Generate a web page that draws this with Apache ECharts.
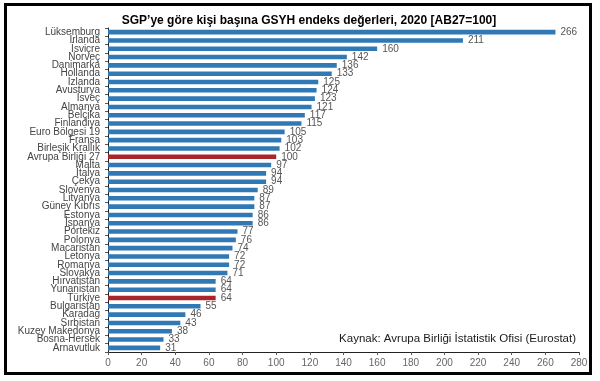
<!DOCTYPE html>
<html>
<head>
<meta charset="utf-8">
<script src="https://cdn.jsdelivr.net/npm/echarts@6/dist/echarts.min.js"></script>
<style>
html,body{margin:0;padding:0;background:#fff;}
#c{width:600px;height:381px;}
</style>
</head>
<body>
<div id="c"></div>
<script>
const categories = ["Lüksemburg","İrlanda","İsviçre","Norveç","Danimarka","Hollanda","İzlanda","Avusturya","İsveç","Almanya","Belçika","Finlandiya","Euro Bölgesi 19","Fransa","Birleşik Krallık","Avrupa Birliği 27","Malta","İtalya","Çekya","Slovenya","Litvanya","Güney Kıbrıs","Estonya","İspanya","Portekiz","Polonya","Macaristan","Letonya","Romanya","Slovakya","Hırvatistan","Yunanistan","Türkiye","Bulgaristan","Karadağ","Sırbistan","Kuzey Makedonya","Bosna-Hersek","Arnavutluk"];
const values = [266,211,160,142,136,133,125,124,123,121,117,115,105,103,102,100,97,94,94,89,87,87,86,86,77,76,74,72,72,71,64,64,64,55,46,43,38,33,31];
const highlighted = ["Avrupa Birliği 27","Türkiye"];
const xTicks = [0,20,40,60,80,100,120,140,160,180,200,220,240,260,280];
const titleText = "SGP’ye göre kişi başına GSYH endeks değerleri, 2020 [AB27=100]";
const sourceText = "Kaynak: Avrupa Birliği İstatistik Ofisi (Eurostat)";

const BLUE = "#3079b5";
const RED = "#a8262a";

const chart = echarts.init(document.getElementById('c'), null, {renderer:'canvas'});
chart.setOption({
  animation: false,
  backgroundColor: '#fff',
  title: {
    text: titleText,
    left: 304, top: 10, textAlign: 'center',
    textStyle: {fontFamily: 'Liberation Sans, Arial, sans-serif', fontSize: 12, fontWeight: 'bold', color: '#000'}
  },
  graphic: [
    {type: 'rect', shape: {x: 5.5, y: 4.5, width: 585, height: 369}, style: {fill: 'none', stroke: '#000', lineWidth: 3}, silent: true},
    {type: 'text', right: 24, top: 333, style: {text: sourceText, font: '11.5px "Liberation Sans", Arial, sans-serif', fill: '#1a1a1a'}}
  ],
  grid: {left: 108, right: 21, top: 28, bottom: 29, containLabel: false},
  xAxis: {
    type: 'value', min: xTicks[0], max: xTicks[xTicks.length-1], interval: xTicks[1]-xTicks[0],
    splitLine: {show: false},
    axisLine: {show: true, lineStyle: {color: '#222', width: 1}},
    axisTick: {show: true, length: 3, lineStyle: {color: '#555'}},
    axisLabel: {color: '#666', fontSize: 10, fontFamily: 'Liberation Sans, Arial, sans-serif', margin: 6}
  },
  yAxis: {
    type: 'category', data: categories, inverse: true,
    axisLine: {show: true, lineStyle: {color: '#222', width: 1}},
    axisTick: {show: true, length: 3, lineStyle: {color: '#555'}},
    axisLabel: {color: '#444', fontSize: 10, fontFamily: 'Liberation Sans, Arial, sans-serif', margin: 8, interval: 0}
  },
  series: [{
    type: 'bar',
    barWidth: '55%',
    data: values.map((v,i) => ({value: v, itemStyle: {color: highlighted.includes(categories[i]) ? RED : BLUE}})),
    label: {show: true, position: 'right', distance: 5, color: '#555', fontSize: 10, fontFamily: 'Liberation Sans, Arial, sans-serif'}
  }]
});
</script>
</body>
</html>
